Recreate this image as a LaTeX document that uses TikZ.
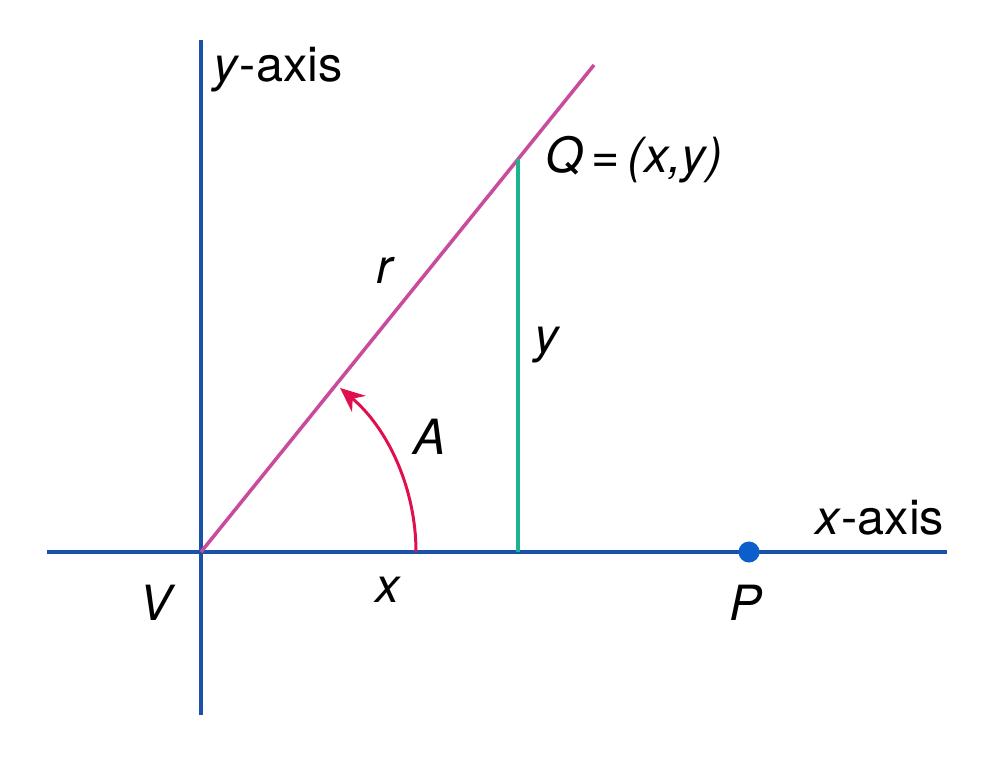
\documentclass[tikz,border=0pt]{standalone}
\usepackage{fontspec}
\setmainfont{TeX Gyre Heros}
\usetikzlibrary{arrows.meta}
\definecolor{axisblue}{HTML}{1A52A8}
\definecolor{raymag}{HTML}{C94B9C}
\definecolor{legteal}{HTML}{1DB38F}
\definecolor{angred}{HTML}{E0104F}
\definecolor{dotblue}{HTML}{0A5FCC}

\begin{document}
\begin{tikzpicture}[x=0.01cm,y=0.01cm,font=\fontsize{13.8}{16}\selectfont,
    axis/.style={axisblue,line width=1.2pt},
    ray/.style={raymag,line width=1pt},
    leg/.style={legteal,line width=1pt},
    angarrow/.style={angred,line width=0.85pt,-{Stealth[length=7pt,width=6pt]}}]
    \useasboundingbox (0,0) rectangle (1000,766);

    \coordinate (V) at (201,214);
    \coordinate (xl) at (47,214);
    \coordinate (xr) at (947,214);
    \coordinate (yb) at (201,51);
    \coordinate (yt) at (201,726);
    \coordinate (rt) at (594,701);
    \coordinate (Q) at (518,607);
    \coordinate (Qf) at (518,214);
    \coordinate (a0) at (416,214);

    \draw[axis] (xl) -- (xr);
    \draw[axis] (yb) -- (yt);
    \draw[ray] (V) -- (rt);
    \draw[leg] (Q) -- (Qf);
    \draw[angarrow] (a0) arc[start angle=0,end angle=49.7,radius=2.15cm];
    \node[circle,fill=dotblue,inner sep=0pt,minimum size=0.21cm] (P) at (749,214) {};

    \node (ylab) at (278,696) {\textit{y}-axis};
    \node (xlab) at (880,248) {\textit{x}-axis};
    \node (Qlab) at (634,606) {\textit{Q}\,=\,\textit{(x,y)}};
    \node (rlab) at (386,496) {\textit{r}};
    \node (ylegl) at (548,421) {\textit{y}};
    \node (Alab) at (430,329) {\textit{A}};
    \node (Vlab) at (158,163) {\textit{V}};
    \node (xlegl) at (388,176) {\textit{x}};
    \node (Plab) at (746,163) {\textit{P}};
\end{tikzpicture}
\end{document}
